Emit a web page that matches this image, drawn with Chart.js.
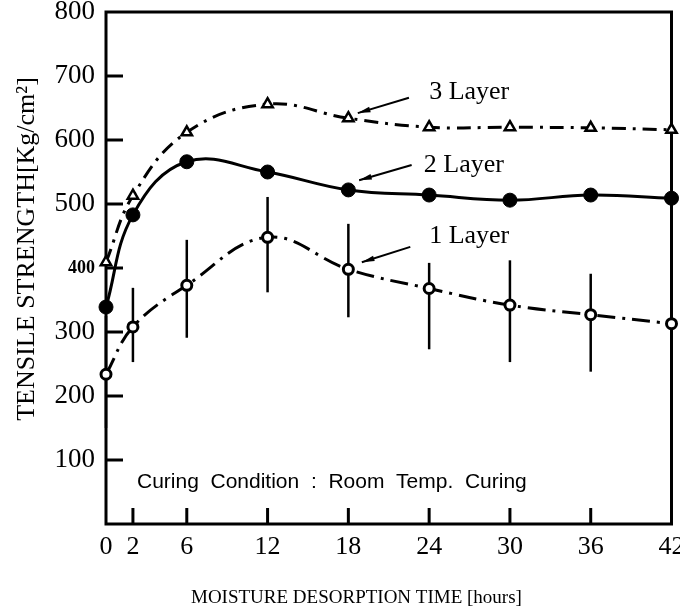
<!DOCTYPE html>
<html>
<head>
<meta charset="utf-8">
<script src="https://cdn.jsdelivr.net/npm/chart.js@4.4.1/dist/chart.umd.min.js"></script>
<style>
    html, body { margin: 0; padding: 0; background: #fff; }
</style>
</head>
<body>
<canvas id="chart" width="680" height="612"></canvas>
<script>
// moisture desorption time (hours) and tensile strength (Kg/cm2)
const hours = [0, 2, 6, 12, 18, 24, 30, 36, 42];
const layer3 = [409, 513, 612, 656, 634, 620, 620, 619, 616];
const layer2 = [339, 483, 566, 550, 522, 514, 506, 514, 509];
const layer1 = [234, 308, 373, 448, 398, 368, 342, 327, 313];
const layer1Low = [150, 253, 291, 362, 323, 273, 253, 238, 240];
const layer1High = [325, 369, 444, 511, 469, 408, 412, 391, 390];
const layerNames = ['3 Layer', '2 Layer', '1 Layer'];
const xTitle = 'MOISTURE DESORPTION TIME [hours]';
const yTitle = 'TENSILE STRENGTH[Kg/cm²]';

const serif = "'Liberation Serif', 'DejaVu Serif', serif";

// label / arrow placement in data units [hours, strength]
const notes = [
    { text: layerNames[0], at: [24, 675], from: [22.5, 666], to: [18.7, 642] },
    { text: layerNames[1], at: [23.6, 561], from: [22.7, 561], to: [18.8, 537] },
    { text: layerNames[2], at: [24, 450], from: [22.6, 433], to: [19.0, 409] },
];

const paperPlugin = {
    id: 'paper',
    beforeDraw(chart) {
        const ctx = chart.ctx;
        ctx.save();
        ctx.fillStyle = '#fff';
        ctx.fillRect(0, 0, chart.width, chart.height);
        ctx.restore();
    },
    beforeDatasetsDraw(chart) {
        const ctx = chart.ctx;
        const x = chart.scales.x;
        const y = chart.scales.y;
        const a = chart.chartArea;
        ctx.save();
        ctx.strokeStyle = '#000';
        ctx.lineCap = 'butt';

        // frame
        ctx.lineWidth = 3;
        ctx.strokeRect(a.left, a.top, a.right - a.left, a.bottom - a.top);

        // inward ticks
        for (let v = 100; v < 800; v += 100) {
            const py = y.getPixelForValue(v);
            ctx.beginPath();
            ctx.moveTo(a.left, py);
            ctx.lineTo(a.left + 17, py);
            ctx.stroke();
        }
        hours.slice(1, -1).forEach(h => {
            const px = x.getPixelForValue(h);
            ctx.beginPath();
            ctx.moveTo(px, a.bottom);
            ctx.lineTo(px, a.bottom - 16);
            ctx.stroke();
        });

        // error bars for 1 layer
        ctx.lineWidth = 2.5;
        hours.forEach((h, i) => {
            const px = x.getPixelForValue(h);
            ctx.beginPath();
            ctx.moveTo(px, y.getPixelForValue(layer1Low[i]));
            ctx.lineTo(px, y.getPixelForValue(layer1High[i]));
            ctx.stroke();
        });
        ctx.restore();
    },
    afterDraw(chart) {
        const ctx = chart.ctx;
        const x = chart.scales.x;
        const y = chart.scales.y;
        const a = chart.chartArea;
        ctx.save();
        ctx.fillStyle = '#000';
        ctx.strokeStyle = '#000';

        notes.forEach(n => {
            ctx.font = '26px ' + serif;
            ctx.textBaseline = 'middle';
            ctx.textAlign = 'left';
            ctx.fillText(n.text, x.getPixelForValue(n.at[0]), y.getPixelForValue(n.at[1]));

            const x1 = x.getPixelForValue(n.from[0]), y1 = y.getPixelForValue(n.from[1]);
            const x2 = x.getPixelForValue(n.to[0]), y2 = y.getPixelForValue(n.to[1]);
            ctx.lineWidth = 2;
            ctx.beginPath();
            ctx.moveTo(x1, y1);
            ctx.lineTo(x2, y2);
            ctx.stroke();
            const ang = Math.atan2(y2 - y1, x2 - x1);
            ctx.beginPath();
            ctx.moveTo(x2, y2);
            ctx.lineTo(x2 - 13 * Math.cos(ang - 0.22), y2 - 13 * Math.sin(ang - 0.22));
            ctx.lineTo(x2 - 13 * Math.cos(ang + 0.22), y2 - 13 * Math.sin(ang + 0.22));
            ctx.closePath();
            ctx.fill();
        });

        ctx.font = "21px 'Liberation Sans', 'DejaVu Sans', sans-serif";
        ctx.textAlign = 'left';
        ctx.textBaseline = 'middle';
        ctx.fillText('Curing  Condition  :  Room  Temp.  Curing', x.getPixelForValue(2.3), y.getPixelForValue(66));

        // axis titles
        ctx.textAlign = 'center';
        ctx.font = '19px ' + serif;
        ctx.fillText(xTitle, x.getPixelForValue(18.6), a.bottom + 74);

        ctx.translate(a.left - 79, (a.top + a.bottom) / 2 - 19);
        ctx.rotate(-Math.PI / 2);
        ctx.font = '26px ' + serif;
        ctx.fillText(yTitle, 0, 0);
        ctx.restore();
    }
};

new Chart(document.getElementById('chart'), {
    type: 'line',
    data: {
        datasets: [
            {
                label: layerNames[0],
                data: hours.map((h, i) => ({ x: h, y: layer3[i] })),
                borderColor: '#000',
                borderWidth: 3,
                borderDash: [14, 7, 3, 7],
                pointStyle: 'triangle',
                pointRadius: 6,
                pointBorderWidth: 2.5,
                pointBackgroundColor: '#fff',
                pointBorderColor: '#000',
                tension: 0.4,
                clip: false
            },
            {
                label: layerNames[1],
                data: hours.map((h, i) => ({ x: h, y: layer2[i] })),
                borderColor: '#000',
                borderWidth: 3,
                pointStyle: 'circle',
                pointRadius: 7,
                pointBorderWidth: 1,
                pointBackgroundColor: '#000',
                pointBorderColor: '#000',
                tension: 0.4,
                clip: false
            },
            {
                label: layerNames[2],
                data: hours.map((h, i) => ({ x: h, y: layer1[i] })),
                borderColor: '#000',
                borderWidth: 3,
                borderDash: [18, 7, 3, 7],
                pointStyle: 'circle',
                pointRadius: 5,
                pointBorderWidth: 3,
                pointBackgroundColor: '#fff',
                pointBorderColor: '#000',
                tension: 0.4,
                clip: false
            }
        ]
    },
    options: {
        responsive: false,
        animation: false,
        devicePixelRatio: 1,
        layout: { padding: { top: 12, right: 7, left: 0, bottom: 0 } },
        plugins: {
            legend: { display: false },
            tooltip: { enabled: false }
        },
        scales: {
            x: {
                type: 'linear',
                min: 0,
                max: 42,
                grid: { display: false, drawTicks: false },
                border: { display: false },
                afterBuildTicks: scale => {
                    scale.ticks = hours.map(v => ({ value: v }));
                },
                afterFit: scale => {
                    scale.height = 88;
                    scale.paddingLeft = 0;
                    scale.paddingRight = 0;
                },
                ticks: {
                    color: '#000',
                    padding: 8,
                    maxRotation: 0,
                    autoSkip: false,
                    font: { family: serif, size: 26 }
                }
            },
            y: {
                min: 0,
                max: 800,
                grid: { display: false, drawTicks: false },
                border: { display: false },
                afterFit: scale => {
                    scale.width = 106;
                    scale.paddingTop = 0;
                    scale.paddingBottom = 0;
                },
                ticks: {
                    stepSize: 100,
                    color: '#000',
                    padding: 11,
                    callback: v => (v === 0 ? '' : String(v)),
                    font: c => (c.tick && c.tick.value === 400
                        ? { family: serif, size: 18, weight: 'bold' }
                        : { family: serif, size: 27 })
                }
            }
        }
    },
    plugins: [paperPlugin]
});
</script>
</body>
</html>
